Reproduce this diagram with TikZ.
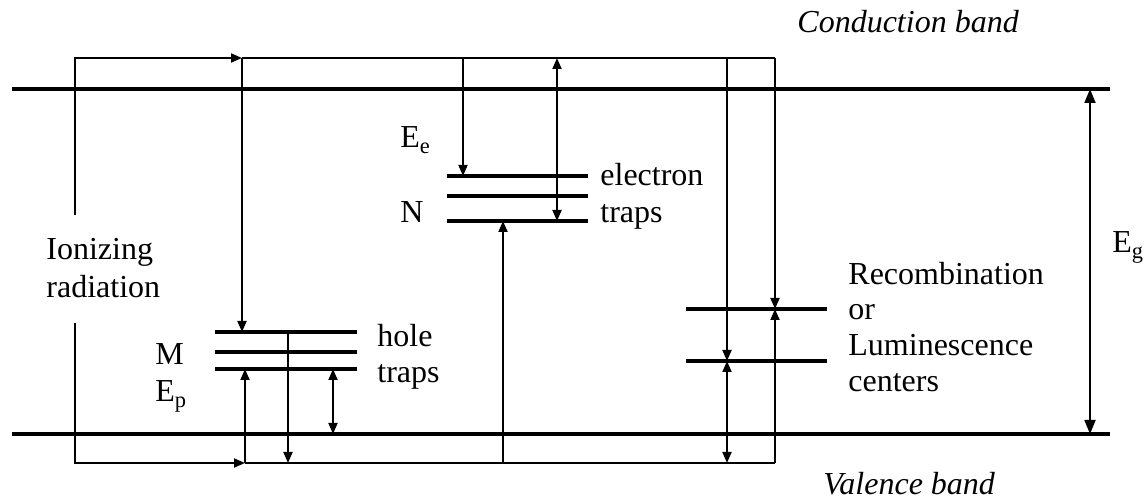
\documentclass[tikz,border=0pt]{standalone}
\usepackage{fontspec}
\setmainfont{Liberation Serif}
\usetikzlibrary{arrows.meta}
\begin{document}
\begin{tikzpicture}[x=0.5pt,y=-0.5pt,
  band/.style={line width=2pt},
  lvl/.style={line width=2pt},
  wire/.style={line width=0.9pt},
  arr/.style={wire,-{Triangle[length=5.5pt,width=4.5pt]}},
  darr/.style={wire,{Triangle[length=5.5pt,width=4.5pt]}-{Triangle[length=5.5pt,width=4.5pt]}},
  bigarr/.style={wire,{Triangle[length=7pt,width=5.5pt]}-{Triangle[length=7pt,width=5.5pt]}},
  lbl/.style={anchor=base west,inner sep=0pt,font=\fontsize{16}{19}\selectfont},
  ilbl/.style={lbl,font=\fontsize{16}{19}\selectfont\itshape}]
\useasboundingbox (0,0) rectangle (1146,501);

% bands
\coordinate (cbL) at (12,89);  \coordinate (cbR) at (1110,89);
\coordinate (vbL) at (12,434); \coordinate (vbR) at (1110,434);
\draw[band] (cbL) -- (cbR);
\draw[band] (vbL) -- (vbR);

% electron traps
\coordinate (e1L) at (447,176); \coordinate (e1R) at (588,176);
\coordinate (e2L) at (447,196); \coordinate (e2R) at (588,196);
\coordinate (e3L) at (447,221); \coordinate (e3R) at (588,221);
\draw[lvl] (e1L) -- (e1R);
\draw[lvl] (e2L) -- (e2R);
\draw[lvl] (e3L) -- (e3R);

% hole traps
\coordinate (h1L) at (215,332); \coordinate (h1R) at (357,332);
\coordinate (h2L) at (215,352); \coordinate (h2R) at (357,352);
\coordinate (h3L) at (215,369); \coordinate (h3R) at (357,369);
\draw[lvl] (h1L) -- (h1R);
\draw[lvl] (h2L) -- (h2R);
\draw[lvl] (h3L) -- (h3R);

% recombination centers
\coordinate (r1L) at (686,309); \coordinate (r1R) at (827,309);
\coordinate (r2L) at (686,361); \coordinate (r2R) at (827,361);
\draw[lvl] (r1L) -- (r1R);
\draw[lvl] (r2L) -- (r2R);

% rails
\coordinate (ionTop) at (75,215);
\coordinate (ionBot) at (75,323);
\coordinate (tA) at (242,58);  \coordinate (tR) at (775,58);
\coordinate (bA) at (245,463); \coordinate (bR) at (775,463);

% ionizing radiation loops
\draw[arr] (ionTop) |- (tA);
\draw[arr] (ionBot) |- (bA);
\draw[wire] (tA) -- (tR);
\draw[wire] (bA) -- (bR);

% from top rail
\draw[arr] (tA) -- (242,332);
\draw[arr] (463,58) -- (463,176);
\draw[darr] (557,58) -- (557,221);
\draw[arr] (727,58) -- (727,361);
\draw[arr] (tR) -- (775,309);

% from bottom rail
\draw[arr] (bA) -- (245,369);
\draw[arr] (503,463) -- (503,221);
\draw[darr] (727,361) -- (727,463);
\draw[arr] (bR) -- (775,309);

% within hole traps
\draw[arr] (288,332) -- (288,463);
\draw[darr] (333,369) -- (333,434);

% band gap
\draw[bigarr] (1090,89) -- (1090,434);

% labels
\node[ilbl] (cb) at (797,33) {Conduction band};
\node[ilbl] (vb) at (823,495) {Valence band};
\node[lbl] (ion1) at (46,260) {Ionizing};
\node[lbl] (ion2) at (46,298) {radiation};
\node[lbl] (Ee) at (400,148) {E\textsubscript{e}};
\node[lbl] (N) at (400,223) {N};
\node[lbl] (el1) at (600,186) {electron};
\node[lbl] (el2) at (600,223) {traps};
\node[lbl] (M) at (155,365) {M};
\node[lbl] (Ep) at (155,402) {E\textsubscript{p}};
\node[lbl] (ho1) at (377,347) {hole};
\node[lbl] (ho2) at (377,383) {traps};
\node[lbl] (rc1) at (848,285) {Recombination};
\node[lbl] (rc2) at (848,320) {or};
\node[lbl] (rc3) at (848,356) {Luminescence};
\node[lbl] (rc4) at (848,392) {centers};
\node[lbl] (Eg) at (1112,253) {E\textsubscript{g}};
\end{tikzpicture}
\end{document}
